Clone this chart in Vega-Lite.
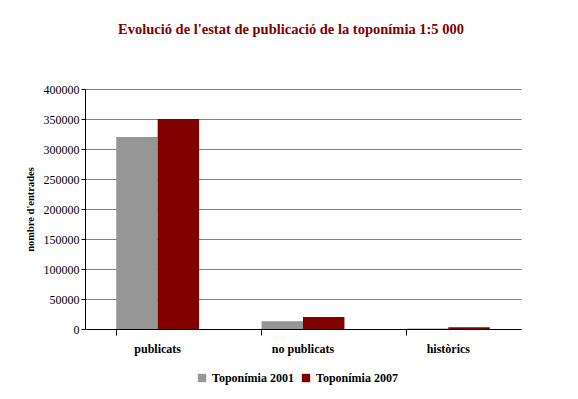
{
  "$schema": "https://vega.github.io/schema/vega-lite/v6.json",
  "width": 436,
  "height": 240,
  "autosize": {"type": "none"},
  "padding": {"left": 85, "top": 89, "right": 57, "bottom": 70},
  "background": "white",
  "title": {
    "text": "Evolució de l'estat de publicació de la toponímia 1:5 000",
    "font": "Liberation Serif",
    "fontSize": 14.5,
    "fontWeight": "bold",
    "color": "#800000",
    "anchor": "middle",
    "dx": -12,
    "offset": 46
  },
  "data": {
    "values": [
      {"categoria": "publicats", "serie": "Toponímia 2001", "entrades": 320000},
      {"categoria": "publicats", "serie": "Toponímia 2007", "entrades": 350000},
      {"categoria": "no publicats", "serie": "Toponímia 2001", "entrades": 13000},
      {"categoria": "no publicats", "serie": "Toponímia 2007", "entrades": 20000},
      {"categoria": "històrics", "serie": "Toponímia 2001", "entrades": 1000},
      {"categoria": "històrics", "serie": "Toponímia 2007", "entrades": 3000}
    ]
  },
  "mark": {"type": "bar"},
  "encoding": {
    "x": {
      "field": "categoria",
      "type": "nominal",
      "sort": ["publicats", "no publicats", "històrics"],
      "scale": {"paddingInner": 0.43, "paddingOuter": 0.215},
      "axis": {
        "title": null,
        "labelAngle": 0,
        "labelFont": "Liberation Serif",
        "labelFontSize": 12,
        "labelFontWeight": "bold",
        "labelColor": "black",
        "labelPadding": 8,
        "bandPosition": 0,
        "tickColor": "black",
        "tickSize": 6,
        "domainColor": "black",
        "grid": false
      }
    },
    "xOffset": {"field": "serie", "type": "nominal"},
    "y": {
      "field": "entrades",
      "type": "quantitative",
      "scale": {"domain": [0, 400000]},
      "axis": {
        "title": "nombre d'entrades",
        "titleFont": "Liberation Serif",
        "titleFontSize": 10.5,
        "titleFontWeight": "bold",
        "titleColor": "black",
        "titlePadding": 8,
        "labelFont": "Liberation Serif",
        "labelFontSize": 12,
        "labelColor": "black",
        "labelPadding": 2,
        "labelOverlap": false,
        "values": [0, 50000, 100000, 150000, 200000, 250000, 300000, 350000, 400000],
        "format": "d",
        "tickColor": "black",
        "tickSize": 4,
        "domainColor": "black",
        "gridColor": "#808080",
        "gridWidth": 1
      }
    },
    "color": {
      "field": "serie",
      "type": "nominal",
      "scale": {"domain": ["Toponímia 2001", "Toponímia 2007"], "range": ["#969696", "#800000"]},
      "legend": {
        "title": null,
        "orient": "none",
        "legendX": 111,
        "legendY": 283,
        "direction": "horizontal",
        "symbolType": "square",
        "symbolSize": 70,
        "symbolStrokeWidth": 0,
        "labelFont": "Liberation Serif",
        "labelFontSize": 12,
        "labelFontWeight": "bold",
        "labelColor": "black",
        "columnPadding": 6
      }
    }
  },
  "config": {
    "view": {"stroke": null}
  }
}
